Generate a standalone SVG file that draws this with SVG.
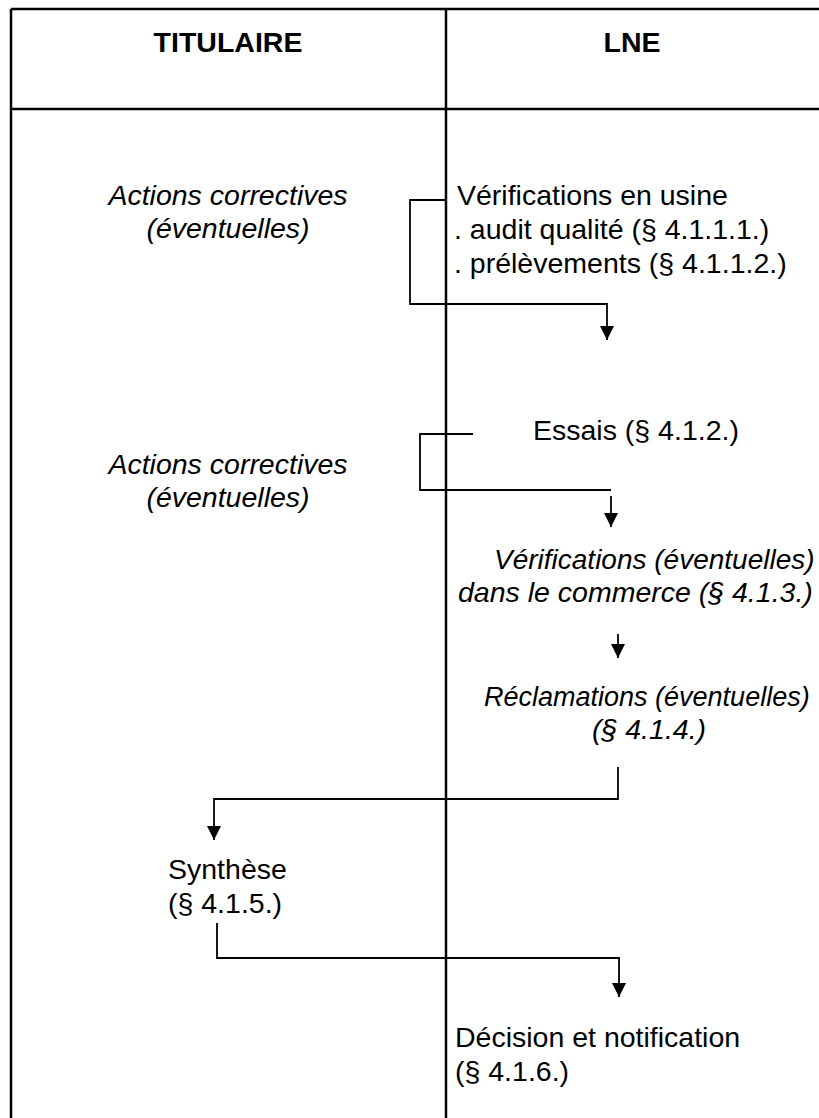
<svg xmlns="http://www.w3.org/2000/svg" width="819" height="1118" viewBox="0 0 819 1118">
<style>
text { font-family: "Liberation Sans", Arial, sans-serif; font-size: 28.5px; fill: #000; }
.hdr { font-weight: bold; text-anchor: middle; }
.it { font-style: italic; }
.mid { text-anchor: middle; }
.grid { stroke: #000; stroke-width: 2.5; fill: none; }
.conn { stroke: #000; stroke-width: 1.8; fill: none; }
</style>
<defs>
<marker id="arr" viewBox="0 0 14 14" refX="14" refY="7" markerWidth="14" markerHeight="14" markerUnits="userSpaceOnUse" orient="auto">
<path d="M0,0 L14,7 L0,14 z" fill="#000"/>
</marker>
</defs>
<rect width="819" height="1118" fill="#fff"/>
<g id="table" class="grid">
<line x1="11" y1="9" x2="819" y2="9"/>
<line x1="11" y1="9" x2="11" y2="1118"/>
<line x1="11" y1="109" x2="819" y2="109"/>
<line x1="446" y1="9" x2="446" y2="1118"/>
</g>
<g id="header-titulaire"><text class="hdr" x="228" y="52">TITULAIRE</text></g>
<g id="header-lne"><text class="hdr" x="632" y="52">LNE</text></g>
<g id="connectors" class="conn">
<path d="M446,200 H410 V304 H607 V340" marker-end="url(#arr)"/>
<path d="M473,434 H420 V490 H611"/>
<path d="M611,496 V527" marker-end="url(#arr)"/>
<path d="M618,634 V658" marker-end="url(#arr)"/>
<path d="M618,767 V799 H214 V840" marker-end="url(#arr)"/>
<path d="M217,923 V958 H619 V997" marker-end="url(#arr)"/>
</g>
<g id="actions1"><text class="it mid" x="228" y="205">Actions correctives</text><text class="it mid" x="228" y="238">(éventuelles)</text></g>
<g id="verif-usine"><text x="457" y="205">Vérifications en usine</text><text x="454" y="239">. audit qualité (§ 4.1.1.1.)</text><text x="454" y="273">. prélèvements (§ 4.1.1.2.)</text></g>
<g id="essais"><text x="533" y="440">Essais (§ 4.1.2.)</text></g>
<g id="actions2"><text class="it mid" x="228" y="474">Actions correctives</text><text class="it mid" x="228" y="507">(éventuelles)</text></g>
<g id="verif-commerce"><text class="it" x="494" y="569" style="font-size:28px">Vérifications (éventuelles)</text><text class="it" x="458" y="602">dans le commerce (§ 4.1.3.)</text></g>
<g id="reclamations"><text class="it" x="484" y="706" style="font-size:27px">Réclamations (éventuelles)</text><text class="it" x="592" y="739">(§ 4.1.4.)</text></g>
<g id="synthese"><text x="168" y="879">Synthèse</text><text x="168" y="913">(§ 4.1.5.)</text></g>
<g id="decision"><text x="455" y="1047">Décision et notification</text><text x="455" y="1081">(§ 4.1.6.)</text></g>
</svg>
